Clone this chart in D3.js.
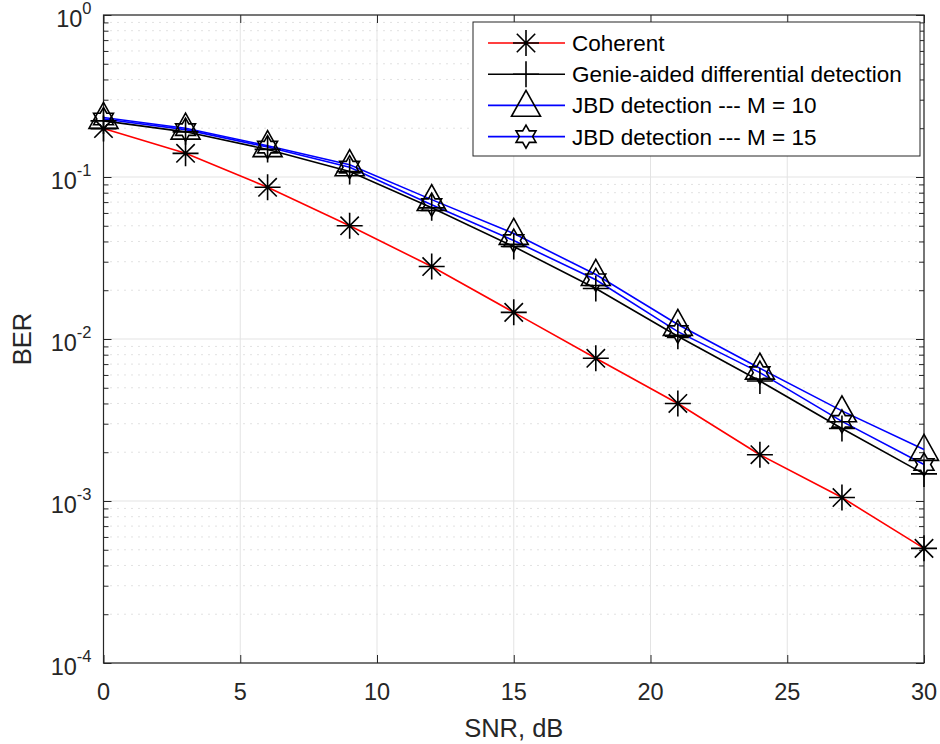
<!DOCTYPE html>
<html>
<head>
<meta charset="utf-8">
<script src="https://cdn.jsdelivr.net/npm/d3@7"></script>
<style>
	html, body { margin: 0; padding: 0; background: #fff; }
	svg { display: block; font-family: "Liberation Sans", Arial, Helvetica, sans-serif; }
</style>
</head>
<body>
<svg width="940" height="744"></svg>
<script>
// SNR in dB
const snr = [0, 3, 6, 9, 12, 15, 18, 21, 24, 27, 30];

// BER per curve
const berCoherent = [0.199, 0.140, 0.0864, 0.0500, 0.0280, 0.0146, 0.0076, 0.0040, 0.00193, 0.00105, 0.00051];
const berGenie = [0.222, 0.190, 0.148, 0.108, 0.0645, 0.0372, 0.0205, 0.0104, 0.0055, 0.0028, 0.00147];
const berM10 = [0.233, 0.200, 0.156, 0.119, 0.0725, 0.0448, 0.0250, 0.0123, 0.0066, 0.0036, 0.00208];
const berM15 = [0.228, 0.196, 0.153, 0.115, 0.0675, 0.0405, 0.0232, 0.0111, 0.0062, 0.0031, 0.00168];

const legendLabels = [
	"Coherent",
	"Genie-aided differential detection",
	"JBD detection --- M = 10",
	"JBD detection --- M = 15"
];

const xTicks = [0, 5, 10, 15, 20, 25, 30];
const yDecades = [0, -1, -2, -3, -4];

const svg = d3.select("svg");
const margin = { top: 15, right: 16, bottom: 81, left: 103.5 };
const width = 940 - margin.left - margin.right;
const height = 744 - margin.top - margin.bottom;

const axisColor = "#262626";

const x = d3.scaleLinear([0, 30], [0, width]);
const y = d3.scaleLog([1e-4, 1], [height, 0]);

const g = svg.append("g")
	.attr("transform", `translate(${margin.left},${margin.top})`);

// minor grid (dotted)
const minorVals = [];
for (let e = -4; e < 0; e++)
	for (let k = 2; k <= 9; k++) minorVals.push(k * Math.pow(10, e));

g.append("g")
	.selectAll("line")
	.data(minorVals)
	.join("line")
	.attr("x1", 0).attr("x2", width)
	.attr("y1", d => y(d)).attr("y2", d => y(d))
	.attr("stroke", "#c4c4c4")
	.attr("stroke-width", 1)
	.attr("stroke-dasharray", "1,6");

// major grid
g.append("g")
	.selectAll("line")
	.data(yDecades.map(e => Math.pow(10, e)))
	.join("line")
	.attr("x1", 0).attr("x2", width)
	.attr("y1", d => y(d)).attr("y2", d => y(d))
	.attr("stroke", "#e3e3e3")
	.attr("stroke-width", 1);

g.append("g")
	.selectAll("line")
	.data(xTicks)
	.join("line")
	.attr("x1", d => x(d)).attr("x2", d => x(d))
	.attr("y1", 0).attr("y2", height)
	.attr("stroke", "#e3e3e3")
	.attr("stroke-width", 1);

// axes with inward ticks
const xAxisB = d3.axisBottom(x).tickValues(xTicks).tickSize(-8).tickFormat("").tickSizeOuter(0);
const xAxisT = d3.axisTop(x).tickValues(xTicks).tickSize(-8).tickFormat("").tickSizeOuter(0);
const yAxisL = d3.axisLeft(y).tickValues(yDecades.map(e => Math.pow(10, e))).tickSize(-8).tickFormat("").tickSizeOuter(0);
const yAxisR = d3.axisRight(y).tickValues(yDecades.map(e => Math.pow(10, e))).tickSize(-8).tickFormat("").tickSizeOuter(0);
const yMinorL = d3.axisLeft(y).tickValues(minorVals).tickSize(-5).tickFormat("").tickSizeOuter(0);
const yMinorR = d3.axisRight(y).tickValues(minorVals).tickSize(-5).tickFormat("").tickSizeOuter(0);

g.append("g").attr("transform", `translate(0,${height})`).call(xAxisB);
g.append("g").call(xAxisT);
g.append("g").call(yAxisL);
g.append("g").call(yMinorL);
g.append("g").attr("transform", `translate(${width},0)`).call(yAxisR);
g.append("g").attr("transform", `translate(${width},0)`).call(yMinorR);
g.selectAll(".domain").remove();
g.selectAll(".tick line").attr("stroke", axisColor).attr("stroke-width", 1);

g.append("rect")
	.attr("x", 0).attr("y", 0)
	.attr("width", width).attr("height", height)
	.attr("fill", "none")
	.attr("stroke", axisColor)
	.attr("stroke-width", 1.2);

// tick labels
g.append("g")
	.selectAll("text")
	.data(xTicks)
	.join("text")
	.attr("x", d => x(d))
	.attr("y", height + 37)
	.attr("text-anchor", "middle")
	.attr("fill", axisColor)
	.attr("font-size", 23.5)
	.text(d => d);

const yLab = g.append("g")
	.selectAll("text")
	.data(yDecades)
	.join("text")
	.attr("x", -12)
	.attr("y", d => y(Math.pow(10, d)) + 12)
	.attr("text-anchor", "end")
	.attr("fill", axisColor)
	.attr("font-size", 23.5);
yLab.append("tspan").text("10");
yLab.append("tspan")
	.attr("dy", -13)
	.attr("font-size", 16.5)
	.text(d => d === 0 ? "0" : "-" + Math.abs(d));

// axis titles
svg.append("text")
	.attr("x", margin.left + width / 2)
	.attr("y", 737)
	.attr("text-anchor", "middle")
	.attr("fill", axisColor)
	.attr("font-size", 25.5)
	.text("SNR, dB");

svg.append("text")
	.attr("transform", `translate(31,${margin.top + height / 2}) rotate(-90)`)
	.attr("text-anchor", "middle")
	.attr("fill", axisColor)
	.attr("font-size", 25.5)
	.text("BER");

// marker shapes
function markerPath(type) {
	if (type === "asterisk") {
		const r = 13, s = r * Math.SQRT1_2;
		return `M${-r},0L${r},0M0,${-r}L0,${r}M${-s},${-s}L${s},${s}M${-s},${s}L${s},${-s}`;
	}
	if (type === "plus") {
		const r = 13;
		return `M${-r},0L${r},0M0,${-r}L0,${r}`;
	}
	if (type === "triangle") {
		const w = 14.5, h = 26;
		return `M0,${-h * 0.58}L${w},${h * 0.42}L${-w},${h * 0.42}Z`;
	}
	// hexagram
	const R = 11.5, r = R / Math.sqrt(3);
	const pts = [];
	for (let i = 0; i < 12; i++) {
		const a = -Math.PI / 2 + i * Math.PI / 6;
		const rr = i % 2 === 0 ? R : r;
		pts.push([rr * Math.cos(a), rr * Math.sin(a)]);
	}
	return "M" + pts.map(p => p.join(",")).join("L") + "Z";
}

const series = [
	{ values: berCoherent, color: "#ff0000", marker: "asterisk" },
	{ values: berGenie, color: "#000000", marker: "plus" },
	{ values: berM10, color: "#0000ff", marker: "triangle" },
	{ values: berM15, color: "#0000ff", marker: "hexagram" }
];

const line = d3.line()
	.x((d, i) => x(snr[i]))
	.y(d => y(d));

const plot = g.append("g");

series.forEach(s => {
	plot.append("path")
		.attr("fill", "none")
		.attr("stroke", s.color)
		.attr("stroke-width", 1.6)
		.attr("d", line(s.values));
});

series.forEach(s => {
	plot.append("g")
		.selectAll("path")
		.data(s.values)
		.join("path")
		.attr("transform", (d, i) => `translate(${x(snr[i])},${y(d)})`)
		.attr("d", markerPath(s.marker))
		.attr("fill", "none")
		.attr("stroke", "#000")
		.attr("stroke-width", 1.6);
});

// legend
const legend = svg.append("g").attr("transform", "translate(473,22)");
legend.append("rect")
	.attr("width", 447).attr("height", 134)
	.attr("fill", "#fff")
	.attr("stroke", axisColor)
	.attr("stroke-width", 1);

const rows = legend.selectAll("g.row")
	.data(series)
	.join("g")
	.attr("class", "row")
	.attr("transform", (d, i) => `translate(0,${21 + i * 31.2})`);

rows.append("line")
	.attr("x1", 15).attr("x2", 92)
	.attr("stroke", d => d.color)
	.attr("stroke-width", 1.6);
rows.append("path")
	.attr("transform", "translate(53,0)")
	.attr("d", d => markerPath(d.marker))
	.attr("fill", "none")
	.attr("stroke", "#000")
	.attr("stroke-width", 1.6);
rows.append("text")
	.attr("x", 99)
	.attr("y", 8)
	.attr("fill", "#000")
	.attr("font-size", 22.5)
	.text((d, i) => legendLabels[i]);
</script>
</body>
</html>
